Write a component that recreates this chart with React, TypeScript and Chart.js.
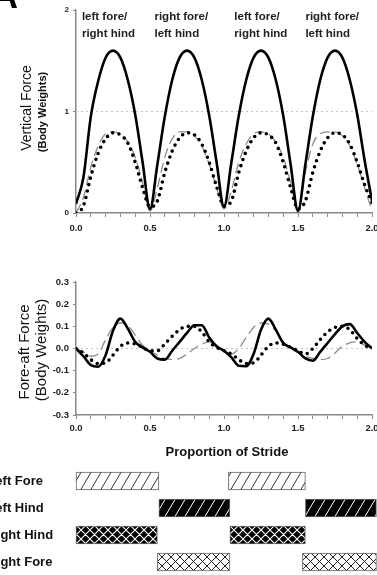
import React, { useEffect, useRef } from 'react';
import { Chart, registerables } from 'chart.js';
Chart.register(...registerables);

const FONT = "'Liberation Sans', Arial, sans-serif";

// x positions (proportion of stride)
const XS = [0, 0.05, 0.1, 0.15, 0.2, 0.25, 0.3, 0.35, 0.4, 0.45, 0.5, 0.55, 0.6, 0.65, 0.7, 0.75, 0.8, 0.85, 0.9, 0.95, 1.0,
  1.05, 1.1, 1.15, 1.2, 1.25, 1.3, 1.35, 1.4, 1.45, 1.5, 1.55, 1.6, 1.65, 1.7, 1.75, 1.8, 1.85, 1.9, 1.95, 2.0];

// Vertical force (body weights)
const VF_TOTAL = [0.09, 0.35, 0.95, 1.3, 1.53, 1.6, 1.53, 1.31, 0.97, 0.5, 0.04, 0.48, 0.95, 1.31, 1.53, 1.6, 1.53, 1.31, 0.96, 0.5, 0.06,
  0.5, 0.96, 1.31, 1.53, 1.6, 1.53, 1.31, 0.96, 0.48, 0.02, 0.48, 0.95, 1.31, 1.53, 1.6, 1.53, 1.31, 0.97, 0.52, 0.12];
const VF_DOT = [0.0, 0.07, 0.36, 0.59, 0.73, 0.79, 0.77, 0.69, 0.5, 0.25, 0.06, 0.12, 0.4, 0.61, 0.74, 0.79, 0.77, 0.68, 0.5, 0.26, 0.07,
  0.12, 0.4, 0.61, 0.74, 0.79, 0.77, 0.69, 0.5, 0.25, 0.04, 0.12, 0.4, 0.61, 0.74, 0.79, 0.77, 0.68, 0.5, 0.28, 0.1];
const VF_DASH = [0.0, 0.15, 0.45, 0.66, 0.78, 0.8, 0.78, 0.7, 0.55, 0.3, 0.02, 0.25, 0.55, 0.73, 0.8, 0.8, 0.76, 0.66, 0.48, 0.25, 0.04,
  0.22, 0.5, 0.68, 0.78, 0.8, 0.78, 0.7, 0.55, 0.3, 0.02, 0.4, 0.68, 0.78, 0.8, 0.8, 0.76, 0.66, 0.48, 0.25, 0.02];

// Fore-aft force (body weights)
const FA_TOTAL = [0, -0.035, -0.075, -0.082, -0.03, 0.08, 0.135, 0.09, 0.03, 0.005, -0.015, -0.045, -0.05, -0.01, 0.03, 0.07, 0.105, 0.105, 0.05, 0.01, -0.01,
  -0.04, -0.078, -0.08, -0.025, 0.085, 0.135, 0.085, 0.025, 0.005, -0.015, -0.045, -0.055, -0.015, 0.025, 0.065, 0.1, 0.11, 0.07, 0.03, 0];
const FA_DOT = [0, -0.02, -0.05, -0.068, -0.065, -0.03, 0.01, 0.025, 0.02, 0.005, -0.01, -0.01, 0.02, 0.055, 0.085, 0.1, 0.1, 0.075, 0.03, 0.005, -0.01,
  -0.025, -0.05, -0.068, -0.065, -0.03, 0.01, 0.025, 0.02, 0.005, -0.01, -0.025, 0.0, 0.04, 0.075, 0.095, 0.1, 0.085, 0.045, 0.015, 0];
const FA_DASH = [0, -0.015, -0.035, -0.025, 0.04, 0.095, 0.115, 0.105, 0.06, 0.015, -0.01, -0.03, -0.045, -0.05, -0.045, -0.025, 0.0, 0.02, 0.03, 0.01, -0.01,
  -0.025, 0.0, 0.05, 0.095, 0.115, 0.11, 0.08, 0.03, 0.0, -0.02, -0.035, -0.045, -0.05, -0.045, -0.02, 0.01, 0.025, 0.03, 0.015, 0];

// Reference lines
const VF_REF = 1;
const FA_REF = 0;

// Annotations over the vertical force panel
const PAIR_LABELS = [['left fore/', 'right hind'], ['right fore/', 'left hind'], ['left fore/', 'right hind'], ['right fore/', 'left hind']];
const PAIR_X = [0.04, 0.53, 1.07, 1.55];

// Footfall (stance) bars
const LIMBS = ['Left Fore', 'Left Hind', 'Right Hind', 'Right Fore'];
const STANCE_1: [number, number][] = [[0, 0.56], [0.56, 1.04], [0, 0.55], [0.55, 1.04]];
const STANCE_2: [number, number][] = [[1.03, 1.55], [1.55, 2.03], [1.04, 1.55], [1.53, 2.03]];

const pts = (ys: number[]) => XS.map((x, i) => ({ x, y: ys[i] }));

const tickFont = (size: number) => ({ family: FONT, size, weight: 'bold' as const });

function xLabel(v: number) {
  const n = Math.round(v * 10);
  return n % 5 === 0 ? (n / 10).toFixed(1) : '';
}

function lineDatasets(total: number[], dot: number[], dash: number[], ref: number) {
  return [
    { data: pts(total), borderColor: '#000', borderWidth: 2.6, order: 0, cubicInterpolationMode: 'monotone' as const },
    { data: pts(dot), borderColor: '#000', borderWidth: 3.6, borderDash: [0, 6.5], borderCapStyle: 'round' as const, order: 1, cubicInterpolationMode: 'monotone' as const },
    { data: pts(dash), borderColor: '#8c8c8c', borderWidth: 1.3, borderDash: [10, 5], order: 2, cubicInterpolationMode: 'monotone' as const },
    { data: [{ x: 0, y: ref }, { x: 2, y: ref }], borderColor: '#c4c4c4', borderWidth: 1.2, borderDash: [2, 3], order: 3 },
  ];
}

function lineOptions(yMin: number, yMax: number, yStep: number, yDec: number, yFont: number, xAxisH: number, xPad: number, top: number) {
  return {
    animation: false as const,
    responsive: false,
    layout: { padding: { left: 0, right: 5, top, bottom: 0 } },
    elements: { point: { radius: 0 }, line: { fill: false } },
    plugins: { legend: { display: false }, tooltip: { enabled: false } },
    scales: {
      x: {
        type: 'linear' as const, min: 0, max: 2,
        ticks: { stepSize: 0.1, maxTicksLimit: 100, autoSkip: false, maxRotation: 0, callback: (v: any) => xLabel(Number(v)), font: tickFont(9.5), color: '#222', padding: xPad },
        grid: { drawOnChartArea: false, drawTicks: true, tickLength: 4, color: '#8a8a8a', lineWidth: 1 },
        border: { color: '#8a8a8a', width: 1.5 },
        afterFit: (s: any) => { s.height = xAxisH; s.paddingLeft = 0; s.paddingRight = 0; },
      },
      y: {
        type: 'linear' as const, min: yMin, max: yMax,
        ticks: { stepSize: yStep, callback: (v: any) => Number(v).toFixed(yDec), font: tickFont(yFont), color: '#222', padding: 4 },
        grid: { drawOnChartArea: false, drawTicks: true, tickLength: 3, color: '#8a8a8a', lineWidth: 1 },
        border: { color: '#8a8a8a', width: 1.5 },
        afterFit: (s: any) => { s.width = 76; s.paddingTop = 0; s.paddingBottom = 0; },
      },
    },
  };
}

function vText(ctx: CanvasRenderingContext2D, text: string, x: number, y: number, font: string) {
  ctx.save();
  ctx.translate(x, y);
  ctx.rotate(-Math.PI / 2);
  ctx.font = font;
  ctx.fillStyle = '#111';
  ctx.textAlign = 'center';
  ctx.textBaseline = 'middle';
  ctx.fillText(text, 0, 0);
  ctx.restore();
}

function hatch(bg: string, fg: string, cross: boolean, w: number, h: number, lw: number) {
  const c = document.createElement('canvas');
  c.width = w; c.height = h;
  const g = c.getContext('2d')!;
  g.fillStyle = bg; g.fillRect(0, 0, w, h);
  g.strokeStyle = fg; g.lineWidth = lw;
  g.beginPath();
  for (const o of [-w, 0, w]) {
    g.moveTo(o, h); g.lineTo(o + w, 0);
    if (cross) { g.moveTo(o, 0); g.lineTo(o + w, h); }
  }
  g.stroke();
  return g.createPattern(c, 'repeat')!;
}

export default function App() {
  const c1 = useRef<HTMLCanvasElement>(null);
  const c2 = useRef<HTMLCanvasElement>(null);
  const c3 = useRef<HTMLCanvasElement>(null);

  useEffect(() => {
    const vfText = {
      id: 'vfText',
      afterDraw(chart: any) {
        const ctx = chart.ctx as CanvasRenderingContext2D;
        const xs = chart.scales.x;
        ctx.save();
        ctx.fillStyle = '#000';
        ctx.font = `bold 36px ${FONT}`;
        ctx.textBaseline = 'alphabetic';
        ctx.textAlign = 'left';
        ctx.fillText('A', -8, 8);
        ctx.font = `bold 11.5px ${FONT}`;
        ctx.fillStyle = '#222';
        ctx.textBaseline = 'middle';
        PAIR_LABELS.forEach((lines, i) => {
          const px = xs.getPixelForValue(PAIR_X[i]);
          ctx.fillText(lines[0], px, 17);
          ctx.fillText(lines[1], px, 34);
        });
        ctx.restore();
        vText(ctx, 'Vertical Force', 27, 108, `14px ${FONT}`);
        vText(ctx, '(Body Weights)', 43, 112, `bold 11px ${FONT}`);
      },
    };
    const faText = {
      id: 'faText',
      afterDraw(chart: any) {
        const ctx = chart.ctx as CanvasRenderingContext2D;
        vText(ctx, 'Fore-aft Force', 25, 112, `15px ${FONT}`);
        vText(ctx, '(Body Weights)', 42, 110, `15px ${FONT}`);
      },
    };
    const barText = {
      id: 'barText',
      afterDraw(chart: any) {
        const ctx = chart.ctx as CanvasRenderingContext2D;
        const ys = chart.scales.y;
        const xs = chart.scales.x;
        ctx.save();
        ctx.fillStyle = '#111';
        ctx.font = `bold 13px ${FONT}`;
        ctx.textAlign = 'center';
        ctx.textBaseline = 'middle';
        ctx.fillText('Proportion of Stride', (xs.left + xs.right) / 2 + 3, 12);
        ctx.textAlign = 'left';
        LIMBS.forEach((l, i) => ctx.fillText(l, -12.6, ys.getPixelForValue(i)));
        ctx.restore();
      },
    };

    const ch1 = new Chart(c1.current!, {
      type: 'line',
      data: { datasets: lineDatasets(VF_TOTAL, VF_DOT, VF_DASH, VF_REF) as any },
      options: lineOptions(0, 2, 1, 0, 8, 27, 6, 10) as any,
      plugins: [vfText],
    });
    const ch2 = new Chart(c2.current!, {
      type: 'line',
      data: { datasets: lineDatasets(FA_TOTAL, FA_DOT, FA_DASH, FA_REF) as any },
      options: lineOptions(-0.3, 0.3, 0.1, 1, 9.5, 25, 4, 42) as any,
      plugins: [faText],
    });

    const pats = [
      hatch('#ffffff', '#333333', false, 10, 17, 1),
      hatch('#000000', '#ffffff', false, 10, 17, 1),
      hatch('#000000', '#ffffff', true, 9, 9, 1.1),
      hatch('#ffffff', '#222222', true, 9, 9, 1),
    ];
    const barDs = (d: [number, number][]) => ({
      data: d, backgroundColor: pats, borderColor: '#666', borderWidth: 1, borderSkipped: false,
      barThickness: 18, grouped: false, clip: false as any,
    });
    const ch3 = new Chart(c3.current!, {
      type: 'bar',
      data: { labels: LIMBS, datasets: [barDs(STANCE_1), barDs(STANCE_2)] as any },
      options: {
        indexAxis: 'y',
        animation: false,
        responsive: false,
        layout: { padding: { left: 76, right: 5, top: 27.5, bottom: 0.5 } },
        plugins: { legend: { display: false }, tooltip: { enabled: false } },
        scales: {
          x: { type: 'linear', min: 0, max: 2, display: false },
          y: { display: false },
        },
      } as any,
      plugins: [barText],
    });
    return () => { ch1.destroy(); ch2.destroy(); ch3.destroy(); };
  }, []);

  const abs = (top: number, h: number): React.CSSProperties => ({ position: 'absolute', left: 0, top, width: 377, height: h, display: 'block' });

  return (
    <div style={{ position: 'absolute', left: 0, top: 0, width: 377, height: 575, overflow: 'hidden', background: '#fff' }}>
      <canvas ref={c1} width={377} height={240} style={abs(0, 240)} />
      <canvas ref={c2} width={377} height={200} style={abs(240, 200)} />
      <canvas ref={c3} width={377} height={136} style={abs(440, 136)} />
    </div>
  );
}
